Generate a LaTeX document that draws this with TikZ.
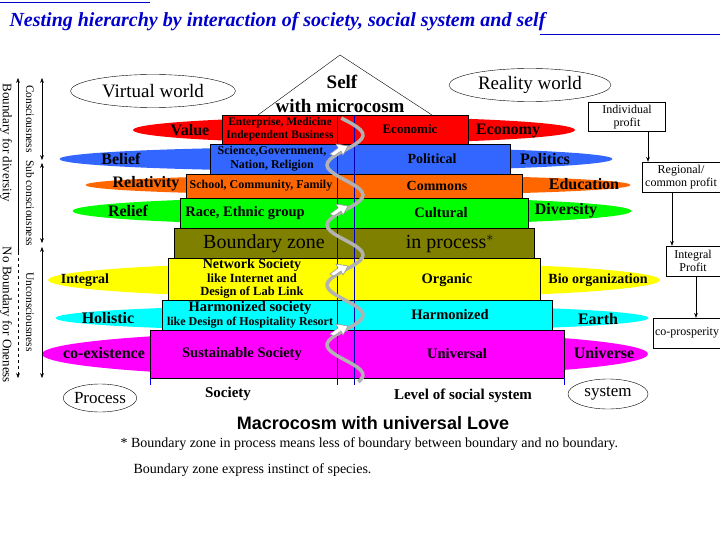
\documentclass[tikz,border=0pt]{standalone}
\usepackage{fontspec}
\setmainfont{Liberation Serif}
\setsansfont{Liberation Sans}
\usetikzlibrary{arrows.meta,shapes.geometric}
\definecolor{nicered}{RGB}{255, 0, 0}
\definecolor{niceblue}{RGB}{51, 102, 255}
\definecolor{niceorange}{RGB}{255, 102, 0}
\definecolor{nicegreen}{RGB}{0, 255, 0}
\definecolor{niceyellow}{RGB}{255, 255, 0}
\definecolor{nicecyan}{RGB}{0, 255, 255}
\definecolor{nicemagenta}{RGB}{255, 0, 255}
\definecolor{olivezone}{RGB}{128, 128, 0}
\definecolor{titleblue}{RGB}{0, 0, 204}

\begin{document}
\begin{tikzpicture}[x=1pt, y=-1pt,
	layer/.style = {ellipse, draw = none, inner sep = 0pt},
	band/.style = {draw, line width = 0.6pt},
	lbl/.style = {font = \fontsize{16}{17}\selectfont\bfseries},
	boxlbl/.style = {font = \fontsize{13}{13.5}\selectfont\bfseries, align = center, inner sep = 1pt},
	world/.style = {ellipse, draw, inner sep = 0pt, font = \fontsize{19}{21}\selectfont},
	profit/.style = {draw, align = center, font = \fontsize{12}{13.5}\selectfont, inner sep = 2pt},
	side/.style = {rotate = -90, font = \fontsize{11.5}{12}\selectfont},
	helix/.style = {draw = gray!60, line width = 3.5pt},
	helixtip/.style = {draw = gray!80, fill = white, line width = 0.6pt}]
			\useasboundingbox (0,0) rectangle (720,540);
			% title
			\draw[titleblue] (0,2) -- (150,2);
			\draw[titleblue] (540,34) -- (720,34);
			\node (title) at (6,22) [anchor = west, text = titleblue, font = \fontsize{20}{22}\selectfont\bfseries\itshape] {Nesting hierarchy by interaction of society, social system and self};
			% self triangle
			\draw (258,115) -- (340,55) -- (432,115);
			\node (self) at (342,82) [font = \fontsize{19}{21}\selectfont\bfseries] {Self};
			\node (micro) at (340,106) [font = \fontsize{19}{21}\selectfont\bfseries] {with microcosm};
			% side ellipses
			\node (red) at (354,130) [layer, fill = nicered, minimum width = 442, minimum height = 26] {};
			\node (blue) at (336,159) [layer, fill = niceblue, minimum width = 553, minimum height = 24] {};
			\node (orange) at (358,185) [layer, fill = niceorange, minimum width = 545, minimum height = 20] {};
			\node (green) at (352,211) [layer, fill = nicegreen, minimum width = 559, minimum height = 28] {};
			\node (yellow) at (354,280) [layer, fill = niceyellow, minimum width = 612, minimum height = 36] {};
			\node (cyan) at (352,318) [layer, fill = nicecyan, minimum width = 593, minimum height = 26] {};
			\node (magenta) at (345,354) [layer, fill = nicemagenta, minimum width = 606, minimum height = 46] {};
			% bands
			\draw[band, fill = nicered] (222,115) rectangle (468,144);
			\draw[band, fill = niceblue] (210,144) rectangle (510,174);
			\draw[band, fill = niceorange] (186,174) rectangle (522,198);
			\draw[band, fill = nicegreen] (180,198) rectangle (528,228);
			\draw[band, fill = olivezone] (174,228) rectangle (534,258);
			\draw[band, fill = niceyellow] (168,258) rectangle (540,300);
			\draw[band, fill = nicecyan] (162,300) rectangle (552,330);
			\draw[band, fill = nicemagenta] (150,330) rectangle (564,378);
			% central column
			\draw[blue!70!black, thin] (337,115) -- (337,385);
			\draw[blue!70!black, thin] (354,115) -- (354,385);
			\draw[blue, thin] (150,378) -- (150,385);
			\draw[blue, thin] (564,378) -- (564,385);
			% helix
			\draw[helix] plot[domain = 118:382, samples = 90] ({345+18*sin(6*\x)}, \x);
			\foreach \y in {150, 210, 270, 330} {
				\draw[helixtip] (348,\y-4) -- (336,\y-6) -- (338,\y-2) -- (330,\y+4) -- (334,\y+6) -- (341,\y+1) -- (343,\y+5) -- cycle;
			}
			% left labels
			\node (value) at (190,130) [lbl] {Value};
			\node (belief) at (121,159) [lbl] {Belief};
			\node (relativity) at (146,184) [lbl] {Relativity};
			\node (relief) at (128,211) [lbl] {Relief};
			\node (integral) at (85,280) [lbl, font = \fontsize{14}{15}\selectfont\bfseries] {Integral};
			\node (holistic) at (108,318) [lbl] {Holistic};
			\node (coexist) at (104,353) [lbl] {co-existence};
			% right labels
			\node (economy) at (508,131) [lbl] {Economy};
			\node (politics) at (545,159) [lbl] {Politics};
			\node (education) at (584,184) [lbl] {Education};
			\node (diversity) at (566,211) [lbl] {Diversity};
			\node (bio) at (598,280) [lbl, font = \fontsize{14}{15}\selectfont\bfseries] {Bio organization};
			\node (earth) at (598,319) [lbl] {Earth};
			\node (universe) at (604,353) [lbl] {Universe};
			% band texts
			\node (enterprise) at (280,129) [boxlbl, font = \fontsize{11.5}{13}\selectfont\bfseries] {Enterprise, Medicine\\Independent Business};
			\node (economic) at (410,129) [boxlbl] {Economic};
			\node (science) at (272,159) [boxlbl, font = \fontsize{12}{14}\selectfont\bfseries] {Science,Government,\\Nation, Religion};
			\node (political) at (432,159) [boxlbl, font = \fontsize{14}{15}\selectfont\bfseries] {Political};
			\node (school) at (261,186) [boxlbl, font = \fontsize{12}{13}\selectfont\bfseries] {School, Community, Family};
			\node (commons) at (437,186) [boxlbl, font = \fontsize{14}{15}\selectfont\bfseries] {Commons};
			\node (race) at (245,213) [boxlbl, font = \fontsize{14.5}{15}\selectfont\bfseries] {Race, Ethnic group};
			\node (cultural) at (441,213) [boxlbl, font = \fontsize{14.5}{15}\selectfont\bfseries] {Cultural};
			\node (bzone) at (264,244) [font = \fontsize{20}{22}\selectfont] {Boundary zone};
			\node (inproc) at (450,244) [font = \fontsize{20}{22}\selectfont] {in process$^{\ast}$};
			\node (network) at (252,279) [boxlbl, font = \fontsize{12.5}{13.5}\selectfont\bfseries] {{\fontsize{14}{13.5}\selectfont Network Society}\\like Internet and\\Design of Lab Link};
			\node (organic) at (447,280) [boxlbl, font = \fontsize{14.5}{15}\selectfont\bfseries] {Organic};
			\node (harmsoc) at (250,315) [boxlbl, font = \fontsize{12}{14}\selectfont\bfseries] {{\fontsize{14.5}{15}\selectfont Harmonized society}\\like Design of Hospitality Resort};
			\node (harmonized) at (450,315) [boxlbl, font = \fontsize{14.5}{15}\selectfont\bfseries] {Harmonized};
			\node (sustain) at (242,354) [boxlbl, font = \fontsize{14.5}{15}\selectfont\bfseries] {Sustainable Society};
			\node (universal) at (457,354) [boxlbl, font = \fontsize{14.5}{15}\selectfont\bfseries] {Universal};
			% world ellipses
			\node (virtual) at (153,91) [world, minimum width = 165, minimum height = 33] {Virtual world};
			\node (reality) at (530,85) [world, minimum width = 162, minimum height = 33] {Reality world};
			\node (process) at (100,398) [world, minimum width = 66, minimum height = 28, font = \fontsize{17}{18}\selectfont] {Process};
			\node (system) at (608,394) [world, minimum width = 80, minimum height = 30, font = \fontsize{17}{18}\selectfont] {system};
			% bottom texts
			\node (society) at (228,394) [font = \fontsize{15}{16}\selectfont\bfseries] {Society};
			\node (level) at (463,396) [font = \fontsize{15}{16}\selectfont\bfseries] {Level of social system};
			\node (macro) at (373,423) [font = \fontsize{18}{20}\selectfont\sffamily\bfseries] {Macrocosm with universal Love};
			\node (note1) at (117,444) [anchor = west, font = \fontsize{14}{15}\selectfont] {* Boundary zone in process means less of boundary between boundary and no boundary.};
			\node (note2) at (130,470) [anchor = west, font = \fontsize{14}{15}\selectfont] {Boundary zone express instinct of species.};
			% left arrows
			\draw[{Stealth}-{Stealth}] (42,78) -- (42,160);
			\draw[{Stealth}-{Stealth}] (42,163) -- (42,243);
			\draw[{Stealth}-{Stealth}] (42,247) -- (42,378);
			\draw[{Stealth}-] (18,78) -- (18,252);
			\draw[-{Stealth}, dashed] (18,252) -- (18,378);
			\node (conscious) at (30,119) [side] {Consciousness};
			\node (subcon) at (30,203) [side] {Sub consciousness};
			\node (uncon) at (30,312) [side] {Unconsciousness};
			\node (bdiv) at (6,143) [side, font = \fontsize{13}{14}\selectfont] {Boundary for diversity};
			\node (bone) at (6,315) [side, font = \fontsize{13}{14}\selectfont] {No Boundary for Oneness};
			% profit chain
			\node (indiv) at (627,117) [profit, minimum width = 77, minimum height = 29] {Individual\\profit};
			\node (regional) at (681,177) [profit, minimum width = 78, minimum height = 30] {Regional/\\common profit};
			\node (intprofit) at (693,261) [profit, minimum width = 54, minimum height = 30] {Integral\\Profit};
			\node (coprosp) at (687,333) [profit, minimum width = 66, minimum height = 30] {co-prosperity};
			\draw[-{Stealth}] (indiv.south -| 648,0) -- (regional.north -| 648,0);
			\draw[-{Stealth}] (regional.south -| 672,0) -- (intprofit.north -| 672,0);
			\draw[-{Stealth}] (intprofit.south -| 696,0) -- (coprosp.north -| 696,0);
			\end{tikzpicture}
\end{document}
